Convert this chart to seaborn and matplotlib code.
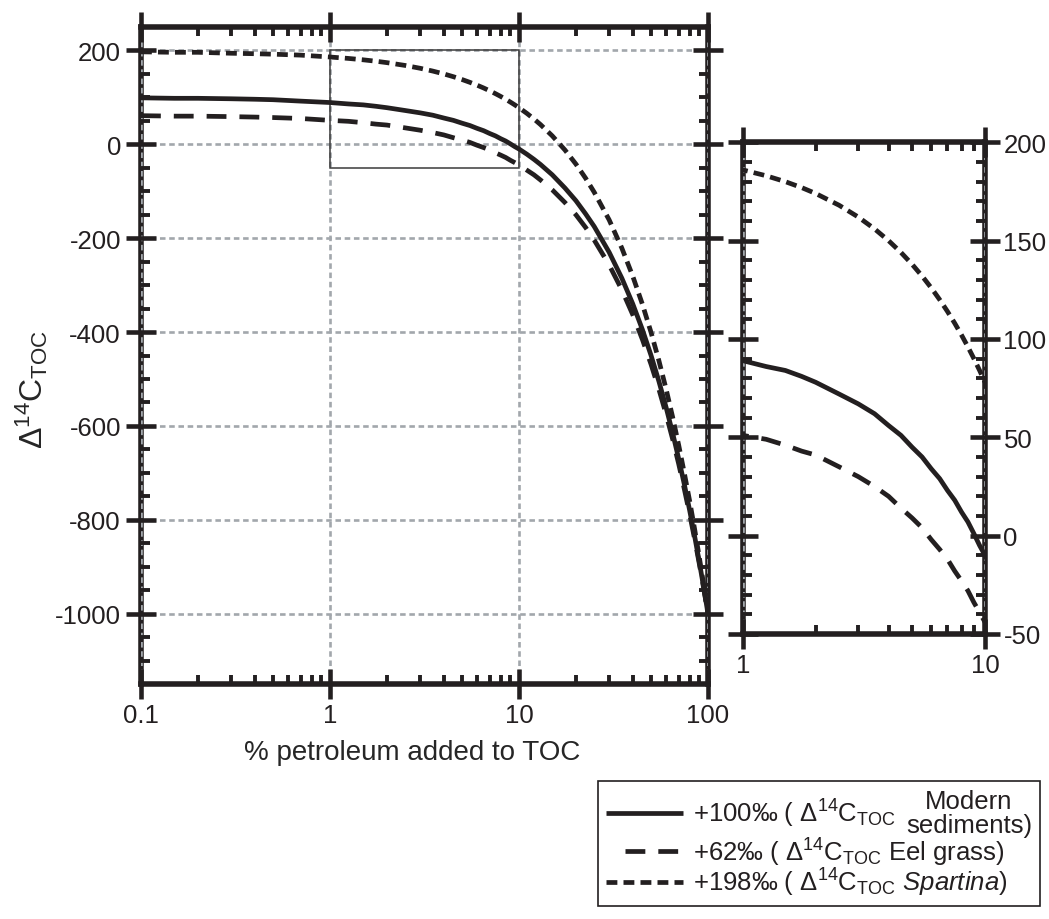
import numpy as np
import pandas as pd
import matplotlib
matplotlib.use("Agg")
import matplotlib.pyplot as plt
import seaborn as sns
from matplotlib.ticker import FixedLocator, LogLocator, MultipleLocator, NullFormatter
from matplotlib.patches import Rectangle
from matplotlib.lines import Line2D
from matplotlib.offsetbox import AnchoredOffsetbox, VPacker, HPacker, TextArea, DrawingArea

# % petroleum carbon added to total organic carbon
petroleum_pct = [0.1, 0.15, 0.2, 0.3, 0.4, 0.5, 0.7, 1, 1.25, 1.5, 1.75, 2, 2.5, 3, 3.5,
                 4, 4.5, 5, 5.5, 6, 6.5, 7, 7.5, 8, 8.5, 9, 9.5, 10, 11, 12, 13, 15,
                 17.5, 20, 22.5, 25, 30, 35, 40, 45, 50, 55, 60, 65, 70, 75, 80, 85,
                 90, 95, 100]

# resulting Δ14C of the TOC (‰) for each end member
modern_sediments = [99, 98, 98, 97, 96, 95, 92, 89, 86, 84, 81, 78, 72, 67, 62,
                    56, 51, 45, 40, 34, 29, 23, 18, 12, 7, 1, -5, -10, -21, -32, -43, -65,
                    -93, -120, -148, -175, -230, -285, -340, -395, -450, -505, -560, -615,
                    -670, -725, -780, -835, -890, -945, -1000]
eel_grass = [61, 60, 60, 59, 58, 57, 55, 51, 49, 46, 43, 41, 35, 30, 25,
             20, 14, 9, 4, -2, -7, -12, -18, -23, -28, -34, -39, -44, -55, -65, -76, -97,
             -124, -150, -177, -204, -257, -310, -363, -416, -469, -522, -575, -628,
             -681, -735, -788, -841, -894, -947, -1000]
spartina = [197, 196, 196, 194, 193, 192, 190, 186, 183, 180, 177, 174, 168, 162, 156,
            150, 144, 138, 132, 126, 120, 114, 108, 102, 96, 90, 84, 78, 66, 54, 42, 18,
            -12, -42, -72, -102, -161, -221, -281, -341, -401, -461, -521, -581,
            -641, -701, -760, -820, -880, -940, -1000]

sources = ["Modern sediments", "Eel grass", "Spartina"]

main_xticks = [0.1, 1, 10, 100]
main_xlabels = ["0.1", "1", "10", "100"]
main_yticks = [-1000, -800, -600, -400, -200, 0, 200]
inset_xticks = [1, 10]
inset_xlabels = ["1", "10"]
inset_yticks = [-50, 0, 50, 100, 150, 200]

INK = "#231f20"
GRID = "#a2a7ac"

sns.set_theme(style="ticks")
plt.rcParams.update({
    "font.family": ["Liberation Sans", "DejaVu Sans"],
    "mathtext.fontset": "custom",
    "mathtext.rm": "Liberation Sans",
    "mathtext.it": "Liberation Sans:italic",
    "mathtext.bf": "Liberation Sans:bold",
    "mathtext.sf": "Liberation Sans",
    "text.color": INK,
    "axes.edgecolor": INK,
    "xtick.color": INK,
    "ytick.color": INK,
    "xtick.labelcolor": INK,
    "ytick.labelcolor": INK,
})

df = pd.DataFrame({
    "pct": petroleum_pct * 3,
    "d14c": modern_sediments + eel_grass + spartina,
    "source": np.repeat(sources, len(petroleum_pct)),
})
dash_map = {"Modern sediments": "", "Eel grass": (4.2, 2.75), "Spartina": (2.3, 1.3)}
LW = 3.4

fig = plt.figure(figsize=(10.49, 9.2), dpi=100)
ax = fig.add_axes([0.1344, 0.2554, 0.5405, 0.7142])
ax2 = fig.add_axes([0.708, 0.3098, 0.231, 0.5344])


def style_axes(a):
    for s in a.spines.values():
        s.set_linewidth(4)
        s.set_color(INK)
        s.set_visible(True)
    a.set_axisbelow(False)
    a.tick_params(which="major", direction="inout", length=21.6, width=3.3,
                  top=True, right=True, bottom=True, left=True, labelsize=18.5)
    a.tick_params(which="minor", direction="in", length=6.5, width=2.8,
                  top=True, right=True, bottom=True, left=True)


for a in (ax, ax2):
    sns.lineplot(data=df, x="pct", y="d14c", style="source", style_order=sources,
                 dashes=dash_map, color=INK, linewidth=LW, legend=False,
                 estimator=None, sort=False, ax=a)
    for ln in a.lines:
        ln.set_zorder(3)
        ln.set_dash_capstyle("butt")
    a.set_xscale("log")
    style_axes(a)
    a.set_xlabel("")
    a.set_ylabel("")

# main panel
ax.set_xlim(0.1, 100)
ax.set_ylim(-1150, 250)
ax.xaxis.set_major_locator(FixedLocator(main_xticks))
ax.set_xticklabels(main_xlabels)
ax.xaxis.set_minor_locator(LogLocator(base=10, subs=np.arange(2, 10)))
ax.xaxis.set_minor_formatter(NullFormatter())
ax.yaxis.set_major_locator(FixedLocator(main_yticks))
ax.set_yticklabels([str(v) for v in main_yticks])
ax.yaxis.set_minor_locator(MultipleLocator(50))
ax.tick_params(axis="x", which="major", pad=3)
ax.tick_params(axis="y", which="major", pad=3.6)
ax.grid(True, which="major", color=GRID, linewidth=1.9, linestyle=(0, (2.1, 1.4)))
ax.set_xlabel("% petroleum added to TOC", fontsize=20)
ax.xaxis.set_label_coords(0.478, -0.083)
ax.set_ylabel("Δ$^{14}$C$_{\\mathrm{TOC}}$", fontsize=23)
ax.yaxis.set_label_coords(-0.160, 0.45)

# outline of the zoomed region
ax.add_patch(Rectangle((inset_xticks[0], inset_yticks[0]),
                       inset_xticks[-1] - inset_xticks[0],
                       inset_yticks[-1] - inset_yticks[0],
                       fill=False, edgecolor="#3a3a3a", linewidth=1.1, zorder=2.6))

# inset panel (1-10 %)
ax2.set_xlim(inset_xticks[0], inset_xticks[-1])
ax2.set_ylim(inset_yticks[0], inset_yticks[-1])
ax2.xaxis.set_major_locator(FixedLocator(inset_xticks))
ax2.set_xticklabels(inset_xlabels)
ax2.xaxis.set_minor_locator(LogLocator(base=10, subs=np.arange(2, 10)))
ax2.xaxis.set_minor_formatter(NullFormatter())
ax2.yaxis.set_major_locator(FixedLocator(inset_yticks))
ax2.set_yticklabels([str(v) for v in inset_yticks])
ax2.yaxis.set_minor_locator(MultipleLocator(10))
ax2.tick_params(axis="y", labelleft=False, labelright=True, pad=2.5)
ax2.tick_params(axis="x", pad=3)
ax2.grid(True, axis="x", which="major", color=GRID, linewidth=1.9,
         linestyle=(0, (2.1, 1.4)))

# key box
FS = 18.5
TP = dict(size=FS, color=INK)
KEY_W = 56


def key(x0, x1, **style):
    da = DrawingArea(KEY_W, 14, 0, 0)
    da.add_artist(Line2D([x0, x1], [7, 7], color=INK, lw=LW,
                         solid_capstyle="butt", dash_capstyle="butt", **style))
    return da


row1 = HPacker(children=[
    key(0, KEY_W, linestyle="-"),
    TextArea("+100‰ ( Δ$^{14}$C$_{\\mathrm{TOC}}$", textprops=TP),
    VPacker(children=[TextArea("Modern", textprops=TP),
                      TextArea("sediments)", textprops=TP)],
            align="center", pad=0, sep=0),
], align="center", pad=0, sep=7)
row2 = HPacker(children=[
    key(13.7, 51.8, linestyle=(0, (4.2, 2.75))),
    TextArea("+62‰ ( Δ$^{14}$C$_{\\mathrm{TOC}}$ Eel grass)", textprops=TP),
], align="center", pad=0, sep=7)
row3 = HPacker(children=[
    key(0, KEY_W, linestyle=(0, (2.3, 1.3))),
    TextArea("+198‰ ( Δ$^{14}$C$_{\\mathrm{TOC}}$ $\\mathit{Spartina}$)", textprops=TP),
], align="center", pad=0, sep=7)
rows = VPacker(children=[row1, row2, row3], align="left", pad=0, sep=-1)
box = AnchoredOffsetbox(loc="upper left", child=rows, pad=0.3, borderpad=0,
                        frameon=True, prop=dict(size=FS),
                        bbox_to_anchor=(598 / 1049, 1 - 782 / 920),
                        bbox_transform=fig.transFigure)
box.patch.set_edgecolor(INK)
box.patch.set_linewidth(1.2)
fig.add_artist(box)

fig.savefig("out.png", dpi=100)
